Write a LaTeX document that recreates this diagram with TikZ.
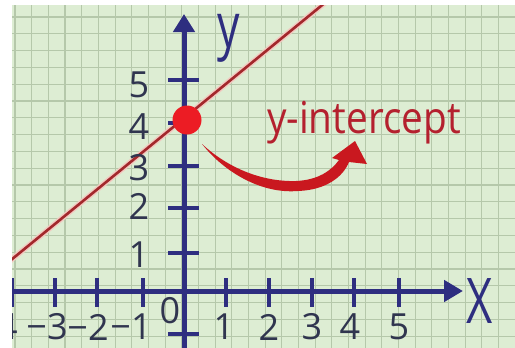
\documentclass[tikz,border=0pt]{standalone}
\usepackage{fontspec}
\newfontfamily\lab{Open Sans}
\usetikzlibrary{arrows.meta}
\definecolor{bg}{HTML}{DDEDD3}
\definecolor{gridc}{HTML}{B5C8AA}
\definecolor{navy}{HTML}{2E2E80}
\definecolor{labc}{HTML}{30354F}
\definecolor{linered}{HTML}{A3282C}
\definecolor{halo}{HTML}{F2C9C0}
\definecolor{dotred}{HTML}{EC1C24}
\definecolor{txtred}{HTML}{B4202E}
\begin{document}
\begin{tikzpicture}[x=1pt,y=-1pt,
  gridline/.style={gridc,line width=1.1pt},
  axis/.style={navy,line width=5pt},
  tick/.style={navy,line width=4pt},
  ticklab/.style={labc,inner sep=0pt,font=\lab\fontsize{36}{36}\selectfont},
  axlab/.style={navy,inner sep=0pt,anchor=base,font=\lab\fontsize{62}{62}\selectfont,xscale=0.72},
  redline/.style={linered,line width=2.6pt}]
\useasboundingbox (0,0) rectangle (515,348);
\fill[white] (0,0) rectangle (515,348);
\begin{scope}
\clip (12,5) rectangle (515,348);
\fill[bg] (12,5) rectangle (515,348);
\foreach \i in {-1,...,30} \draw[gridline] ({31.7+16.67*\i},5) -- ({31.7+16.67*\i},348);
\foreach \i in {-1,...,20} \draw[gridline] (12,{17+16.8*\i}) -- (515,{17+16.8*\i});
% red line
\coordinate (la) at (0,269);
\coordinate (lb) at (332,-3);
\draw[halo,line width=5.5pt] (la) -- (lb);
\draw[redline] (la) -- (lb);
% axes
\coordinate (xs) at (5,291);
\coordinate (xe) at (463,291);
\coordinate (ys) at (184,352);
\coordinate (ye) at (184,14);
\draw[axis,-{Triangle[length=19pt,width=21pt]}] (xs) -- (xe);
\draw[axis,-{Triangle[length=18pt,width=21pt]}] (ys) -- (ye);
% x ticks
\foreach \x in {12,55,97,143,226,269,312,354,399} \draw[tick] (\x,278) -- (\x,307);
% y ticks
\foreach \y in {80,123,166,208,253,334} \draw[tick] (168,\y) -- (199,\y);
% y labels
\node[ticklab] (y5) at (139,85) {5};
\node[ticklab] (y4) at (139,127) {4};
\node[ticklab] (y3) at (139,168) {3};
\node[ticklab] (y2) at (139,206) {2};
\node[ticklab] (y1) at (139,255) {1};
% x labels
\node[ticklab] (xm4) at (-3,327) {−4};
\node[ticklab] (xm3) at (47,327) {−3};
\node[ticklab] (xm2) at (88,327) {−2};
\node[ticklab] (xm1) at (131,327) {−1};
\node[ticklab] (x0) at (170,311) {0};
\node[ticklab] (x1) at (224,327) {1};
\node[ticklab] (x2) at (269,327) {2};
\node[ticklab] (x3) at (312,327) {3};
\node[ticklab] (x4) at (350,327) {4};
\node[ticklab] (x5) at (399,327) {5};
% axis labels
\node[axlab] (ylab) at (229,48) {y};
\node[axlab,font=\lab\fontsize{63}{63}\selectfont] (xlab) at (480,323) {X};
% intercept dot
\node[circle,fill=dotred,minimum size=29pt,inner sep=0pt] (dot) at (187,120) {};
% label
\node[txtred,anchor=base west,inner sep=0pt,font=\lab\fontsize{44}{44}\selectfont,xscale=0.88] (ylbl) at (267,133) {y-intercept};
% curved arrow (brush stroke)
\fill[dotred!85!black]
  (202,144) .. controls (225,173) and (262,194) .. (298,191)
  .. controls (326,190) and (343,177) .. (349,162)
  -- (367,164) -- (355,141) -- (332,158) -- (339,160)
  .. controls (331,171) and (318,180) .. (296,181)
  .. controls (262,182) and (228,168) .. (202,144) -- cycle;
\end{scope}
\end{tikzpicture}
\end{document}
